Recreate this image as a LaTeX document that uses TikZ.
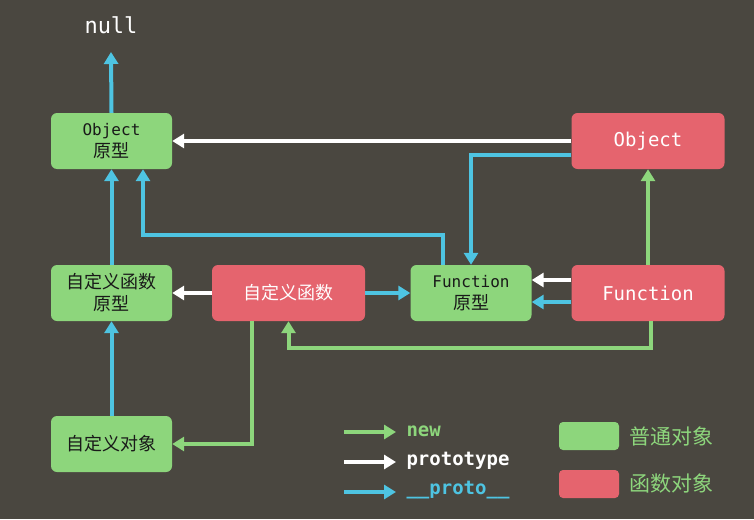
\documentclass[tikz,border=0pt]{standalone}
\usepackage{fontspec}
\setmainfont{Noto Sans CJK SC}
\setmonofont{DejaVu Sans Mono}
\usetikzlibrary{arrows.meta,calc}
\definecolor{bg}{RGB}{74,71,64}
\definecolor{gbox}{RGB}{141,214,124}
\definecolor{rbox}{RGB}{229,100,110}
\definecolor{bl}{RGB}{78,196,226}
\definecolor{wh}{RGB}{255,255,255}
\definecolor{dk}{RGB}{25,25,25}
\tikzset{
  box/.style={rounded corners=6pt, minimum width=121pt, minimum height=56pt, inner sep=0pt, align=center},
  gb/.style={box, fill=gbox, text=dk},
  rb/.style={box, fill=rbox, text=white, minimum width=153pt},
  lnk/.style={line width=4pt, -{Triangle[width=14pt,length=12pt]}},
  pr/.style={lnk, draw=bl},
  pt/.style={lnk, draw=wh},
  nw/.style={lnk, draw=gbox},
  cj/.style={font=\fontsize{18}{22}\selectfont},
  lgt/.style={anchor=west, font=\ttfamily\bfseries\fontsize{19}{22}\selectfont},
}
\begin{document}
\begin{tikzpicture}[x=1pt,y=-1pt]
\fill[bg] (0,0) rectangle (754,519);
\useasboundingbox (0,0) rectangle (754,519);
% nodes
\node[text=white, font=\ttfamily\fontsize{22}{26}\selectfont] (null) at (111,25) {null};
\node[gb, cj] (op) at (111.5,141) {{\ttfamily\fontsize{16}{22}\selectfont Object}\\原型};
\node[rb, font=\ttfamily\fontsize{19}{22}\selectfont] (objr) at (648,141) {Object};
\node[gb, cj] (cp) at (111.5,293) {自定义函数\\原型};
\node[rb, cj, minimum width=153pt] (cf) at (288.5,293) {自定义函数};
\node[gb, cj] (fp) at (471,293) {{\ttfamily\fontsize{16}{22}\selectfont Function}\\原型};
\node[rb, font=\ttfamily\fontsize{19}{22}\selectfont] (fr) at (648,293) {Function};
\node[gb, cj] (co) at (111.5,444) {自定义对象};
% arrows
\coordinate (nt) at (111,52);
\draw[pr] (op.north) -- (nt);
\draw[pt] (objr.west) -- (op.east);
\draw[pr] ([yshift=-14pt]objr.west) -| (fp.north);
\coordinate (b1) at (143,235);
\draw[pr] ([xshift=-28pt]fp.north) |- (b1) -- ([xshift=31.5pt]op.south);
\draw[pr] (cp.north) -- (op.south);
\draw[pt] (cf.west) -- (cp.east);
\draw[pr] (cf.east) -- (fp.west);
\draw[pt] ([yshift=13pt]fr.west) -- ([yshift=13pt]fp.east);
\draw[pr] ([yshift=-9pt]fr.west) -- ([yshift=-9pt]fp.east);
\draw[nw] (fr.north) -- (objr.south);
\coordinate (g1) at (0,348);
\draw[nw] ([xshift=3pt]fr.south) -- ([xshift=3pt]fr.south |- g1) -- (cf.south |- g1) -- (cf.south);
\draw[nw] ([xshift=-37pt]cf.south) |- (co.east);
\draw[pr] (co.north) -- (cp.south);
% legend
\coordinate (la1) at (344,432); \coordinate (lb1) at (396,432);
\coordinate (la2) at (344,462); \coordinate (lb2) at (396,462);
\coordinate (la3) at (344,492); \coordinate (lb3) at (396,492);
\draw[nw] (la1) -- (lb1);
\draw[pt] (la2) -- (lb2);
\draw[pr] (la3) -- (lb3);
\node[lgt, text=gbox] (tnew) at (403,431) {new};
\node[lgt, text=white] (tpt) at (403,461) {prototype};
\node[lgt, text=bl] (tpr) at (403,490) {\_\_proto\_\_};
\node[fill=gbox, rounded corners=4pt, minimum width=60pt, minimum height=28pt, inner sep=0pt] (lg) at (589,436) {};
\node[fill=rbox, rounded corners=4pt, minimum width=60pt, minimum height=28pt, inner sep=0pt] (lr) at (589,484) {};
\node[anchor=west, text=gbox, font=\fontsize{21}{24}\selectfont] (tg) at (626,436) {普通对象};
\node[anchor=west, text=gbox, font=\fontsize{21}{24}\selectfont] (tr) at (626,484) {函数对象};
\end{tikzpicture}
\end{document}
